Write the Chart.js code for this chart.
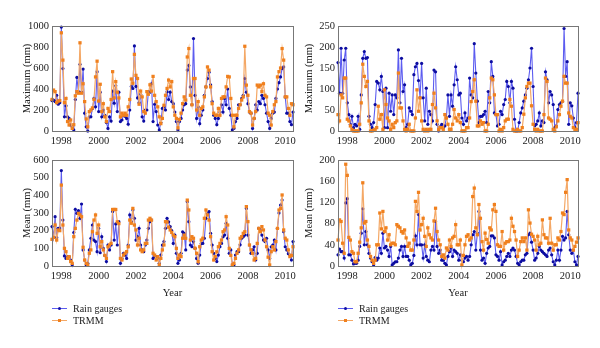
<!DOCTYPE html>
<html>
<head>
<meta charset="utf-8">
<script src="https://cdn.jsdelivr.net/npm/chart.js@4.4.1/dist/chart.umd.min.js"></script>
<style>
  body { margin: 0; background: #fff; }
  #wrap { position: relative; width: 600px; height: 348px; overflow: hidden; font-family: "Liberation Serif", "DejaVu Serif", serif; }
  canvas { position: absolute; }
  .leg { position: absolute; font-size: 10px; color: #222; line-height: 12px; white-space: nowrap; }
  .leg .ln { position: absolute; left: 0; top: 5px; width: 15px; height: 1px; }
  .leg .mk { position: absolute; left: 6px; top: 4px; width: 3px; height: 3px; }
  .leg span.t { position: absolute; left: 21px; top: 0; }
</style>
</head>
<body>
<div id="wrap">
  <canvas id="tl" width="300" height="155" style="left:0;top:0"></canvas>
  <canvas id="tr" width="300" height="155" style="left:300px;top:0"></canvas>
  <canvas id="bl" width="300" height="150" style="left:0;top:150px"></canvas>
  <canvas id="br" width="300" height="150" style="left:300px;top:150px"></canvas>

  <div class="leg" style="left:52px;top:303px"><div class="ln" style="background:#5c5cf0"></div><div class="mk" style="background:#1010a8;border-radius:50%"></div><span class="t">Rain gauges</span></div>
  <div class="leg" style="left:52px;top:315px"><div class="ln" style="background:#f4a866"></div><div class="mk" style="background:#f0801e"></div><span class="t">TRMM</span></div>
  <div class="leg" style="left:338px;top:303px"><div class="ln" style="background:#5c5cf0"></div><div class="mk" style="background:#1010a8;border-radius:50%"></div><span class="t">Rain gauges</span></div>
  <div class="leg" style="left:338px;top:315px"><div class="ln" style="background:#f4a866"></div><div class="mk" style="background:#f0801e"></div><span class="t">TRMM</span></div>
</div>
<script>
// monthly, Jan 1998 - Dec 2010
const months = [];
for (let y = 1998; y <= 2010; y++) {
  for (let m = 1; m <= 12; m++) months.push(y + '-' + m);
}

// station A, monthly maximum (mm)
const maxGaugeA = [
  290,295,280,340,255,270,990,595,135,240,135,120,
  57,40,10,300,510,375,635,370,590,170,40,0,
  135,135,215,310,230,565,185,370,135,200,150,80,
  25,135,95,380,265,430,185,370,90,105,150,140,
  120,65,200,425,405,810,425,315,270,350,135,95,
  200,200,375,370,450,90,255,185,57,10,80,215,
  230,200,375,300,370,280,260,180,90,10,90,120,
  200,250,260,580,625,420,250,880,340,120,230,70,
  150,200,340,420,500,560,440,280,150,120,60,120,
  180,250,180,310,250,400,215,150,10,25,90,120,
  250,250,310,340,500,370,260,180,170,25,120,250,
  200,280,260,340,310,250,170,90,25,120,170,180,
  310,400,460,515,595,610,325,170,170,90,60,180
];
const maxTrmmA = [
  300,390,375,270,285,290,935,675,270,310,90,57,
  105,25,60,335,375,360,840,360,450,280,115,40,
  185,200,220,300,515,665,285,445,185,260,135,90,
  215,185,300,565,315,470,370,315,135,170,150,170,
  150,230,300,495,455,730,530,500,255,380,325,185,
  170,375,350,440,380,520,340,280,230,135,70,120,
  245,340,405,485,420,470,230,150,120,30,110,170,
  260,325,295,705,785,340,250,500,500,200,280,150,
  215,230,325,420,610,580,420,260,170,150,150,215,
  150,310,325,325,420,520,515,310,150,40,150,150,
  215,250,295,325,807,437,340,185,170,57,120,185,
  437,420,437,375,450,340,325,170,150,57,185,250,
  280,515,565,600,785,675,325,325,215,150,260,250
];

// station B, monthly maximum (mm)
const maxGaugeB = [
  163,90,197,90,169,197,67,39,16,35,8,16,
  12,35,4,86,173,189,173,175,35,16,8,20,
  63,118,114,98,130,94,8,102,8,90,47,86,
  39,86,79,193,67,173,94,110,8,16,55,47,
  39,134,153,161,120,79,161,79,24,102,16,47,
  39,24,145,141,16,0,10,16,8,12,31,86,
  35,86,59,110,153,122,86,90,31,16,43,24,
  31,126,86,79,208,138,71,20,35,35,39,47,
  20,94,67,165,130,43,39,12,16,47,39,63,
  75,118,106,67,118,102,28,0,0,20,43,55,
  71,86,102,122,150,197,106,12,16,24,43,12,
  24,20,141,122,67,94,86,63,8,12,51,63,
  67,71,244,130,165,16,67,60,31,8,20,90
];
const maxTrmmB = [
  39,24,86,79,126,126,28,24,12,4,0,0,
  0,0,16,67,159,130,106,118,24,0,0,2,
  4,8,59,28,39,4,98,63,31,24,4,16,
  8,20,24,138,55,55,24,4,0,4,16,0,
  0,0,31,98,47,79,24,4,0,4,0,4,
  4,63,90,55,24,4,8,8,4,39,31,16,
  4,4,16,51,31,24,39,20,0,0,0,8,
  8,31,70,94,122,71,12,12,24,16,20,0,
  0,16,79,126,122,86,39,39,0,4,0,8,
  24,28,28,75,59,4,0,0,4,0,0,8,
  40,79,106,114,114,60,16,4,0,4,0,0,
  0,39,126,118,31,28,24,4,0,10,24,39,
  59,71,130,114,114,43,35,31,8,4,4,20
];

// station A, monthly mean (mm)
const meanGaugeA = [
  223,162,279,162,213,215,540,260,57,43,53,53,
  34,6,189,321,298,313,270,351,91,34,6,15,
  91,157,232,147,138,81,213,75,166,100,60,25,
  119,91,119,308,147,238,119,251,15,43,72,62,
  43,119,289,251,317,270,147,166,213,119,91,81,
  119,147,213,251,260,43,53,53,43,15,62,119,
  138,213,270,250,223,200,128,175,72,15,34,72,
  194,185,91,364,251,119,109,138,100,43,15,62,
  128,128,157,270,298,308,185,119,72,43,25,62,
  109,128,166,175,242,157,72,91,6,6,62,81,
  81,120,157,166,175,326,175,119,72,91,109,34,
  72,213,204,175,147,138,157,91,43,109,119,147,
  91,213,300,345,373,194,109,91,70,62,34,138
];
const meanTrmmA = [
  151,162,232,147,204,200,458,232,100,81,43,53,
  25,15,166,213,260,298,289,279,106,34,15,6,
  72,91,194,260,289,185,232,109,138,91,60,43,
  109,119,128,320,320,320,250,240,43,34,62,72,
  81,109,260,242,326,232,204,119,157,91,81,91,
  128,128,260,270,260,72,62,34,53,6,43,91,
  119,251,250,220,204,190,175,166,100,43,62,53,
  157,175,157,373,317,147,166,157,100,72,25,109,
  147,157,270,317,289,260,166,81,34,53,80,109,
  128,147,194,204,279,232,100,60,6,15,43,72,
  91,157,166,185,194,336,251,119,91,72,34,43,
  128,213,194,223,204,147,109,50,6,81,109,91,
  138,213,317,326,402,204,157,147,91,53,60,109
];

// station B, monthly mean (mm)
const meanGaugeB = [
  21,32,27,27,15,119,127,21,21,11,4,5,
  5,11,37,62,108,40,65,40,24,15,8,2,
  16,11,15,34,24,62,34,37,30,18,37,2,
  5,8,8,15,30,37,18,37,18,18,11,2,
  5,20,57,40,97,40,40,15,40,18,11,8,
  30,37,30,84,37,24,30,11,11,5,2,18,
  27,34,18,30,27,24,11,21,11,8,15,18,
  11,18,40,59,65,30,62,103,30,11,15,5,
  24,34,37,57,57,53,21,18,11,27,2,8,
  11,18,24,18,30,34,30,18,5,2,8,11,
  11,21,24,59,62,45,30,11,15,24,37,30,
  27,24,21,18,30,34,21,8,2,11,30,11,
  30,56,49,53,103,59,30,24,30,8,2,18
];
const meanTrmmB = [
  49,87,84,43,24,192,171,54,49,27,24,8,
  8,24,45,72,157,81,84,49,37,18,11,5,
  11,40,40,100,70,103,65,72,49,59,40,43,
  43,40,78,75,72,65,62,68,53,37,43,30,
  30,49,122,103,139,68,78,90,56,37,72,59,
  53,49,85,109,65,49,40,18,21,15,34,30,
  49,37,53,56,78,40,40,49,2,20,40,56,
  59,49,53,131,147,72,59,116,90,46,30,62,
  50,43,72,68,106,116,103,40,37,37,65,30,
  43,46,46,49,90,75,65,49,18,30,46,53,
  46,53,30,106,81,60,56,49,30,56,40,43,
  87,59,53,53,43,90,43,30,40,40,53,49,
  65,100,97,139,163,68,53,49,30,37,45,53
];

const FONT = { family: '"Liberation Serif", "DejaVu Serif", serif', size: 10.5 };
const TXT = '#222';

// box around the plot area
const frame = {
  id: 'frame',
  afterDraw(chart) {
    const a = chart.chartArea, ctx = chart.ctx;
    ctx.save();
    ctx.strokeStyle = '#777';
    ctx.lineWidth = 1;
    ctx.strokeRect(Math.round(a.left) + 0.5, Math.round(a.top) + 0.5,
      Math.round(a.right - a.left), Math.round(a.bottom - a.top));
    ctx.restore();
  }
};

function panel(id, gauge, trmm, yMax, yStep, yTitle, showYear, pad, yWidth, xHeight) {
  new Chart(document.getElementById(id), {
    type: 'line',
    data: {
      labels: months,
      datasets: [
        {
          label: 'TRMM',
          data: trmm,
          borderColor: '#f4a866',
          backgroundColor: '#f0801e',
          borderWidth: 1.2,
          pointStyle: 'rect',
          pointRadius: 2.3,
          pointBorderWidth: 0,
          tension: 0,
          clip: 4,
          order: 1
        },
        {
          label: 'Rain gauges',
          data: gauge,
          borderColor: '#5c5cf0',
          backgroundColor: '#0c0ca0',
          borderWidth: 1.1,
          pointRadius: 1.6,
          pointBorderWidth: 0,
          tension: 0,
          clip: 4,
          order: 2
        }
      ]
    },
    options: {
      responsive: false,
      animation: false,
      devicePixelRatio: 1,
      layout: { padding: pad },
      plugins: { legend: { display: false }, tooltip: { enabled: false } },
      scales: {
        x: {
          offset: false,
          grid: { display: false, drawTicks: false },
          border: { display: false },
          ticks: {
            autoSkip: false, maxRotation: 0, padding: 4,
            color: TXT, font: FONT,
            callback: (v, i) => (i % 24 === 6 ? String(1998 + (i - 6) / 12) : null)
          },
          title: { display: showYear, text: 'Year', color: TXT, font: FONT, padding: { top: 0, bottom: 0 } },
          afterFit: s => { s.height = xHeight; }
        },
        y: {
          min: 0, max: yMax,
          grid: { display: false, drawTicks: false },
          border: { display: false },
          ticks: { stepSize: yStep, padding: 3, color: TXT, font: FONT, callback: v => String(v) },
          title: { display: true, text: yTitle, color: TXT, font: FONT, padding: 0 },
          afterFit: s => { s.width = yWidth; }
        }
      }
    },
    plugins: [frame]
  });
}

panel('tl', maxGaugeA, maxTrmmA, 1000, 200, 'Maximum (mm)', false, { left: 21, right: 7, top: 26, bottom: 0 }, 31, 24);
panel('tr', maxGaugeB, maxTrmmB, 250, 50, 'Maximum (mm)', false, { left: 3, right: 22, top: 26, bottom: 0 }, 35, 24);
panel('bl', meanGaugeA, meanTrmmA, 600, 100, 'Mean (mm)', true, { left: 21, right: 7, top: 10, bottom: 0 }, 31, 34);
panel('br', meanGaugeB, meanTrmmB, 200, 40, 'Mean (mm)', true, { left: 3, right: 22, top: 10, bottom: 0 }, 35, 34);
</script>
</body>
</html>
